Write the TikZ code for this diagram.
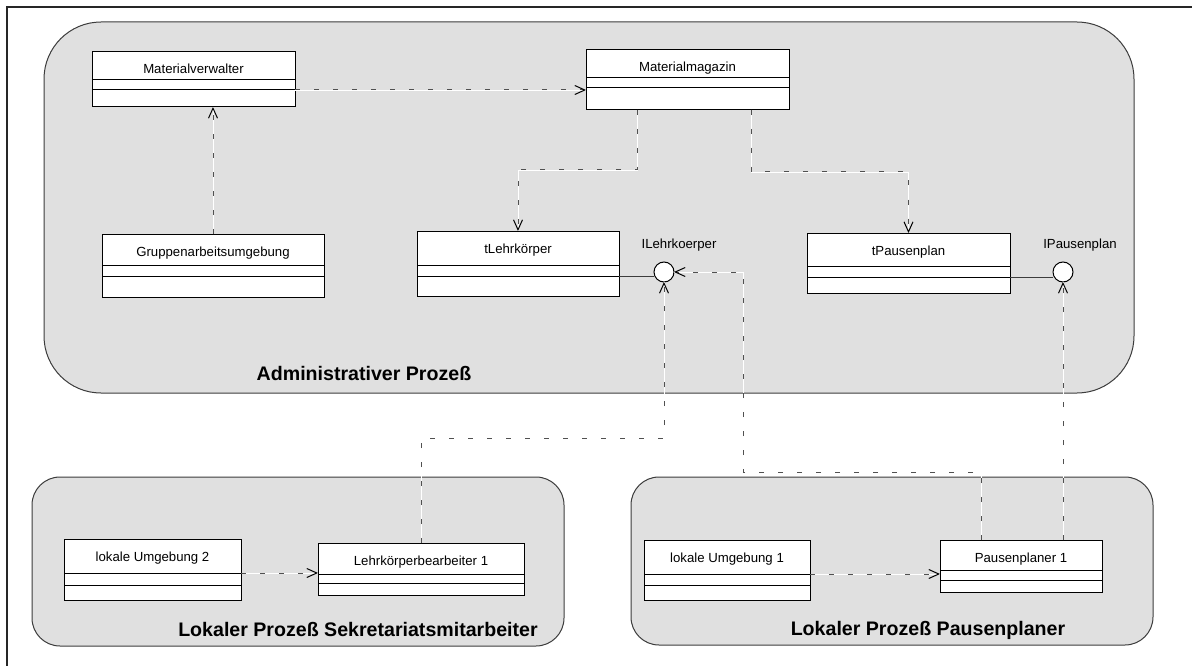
\documentclass[tikz,border=0pt]{standalone}
\usepackage{fontspec}
\setmainfont{Liberation Sans}
\usetikzlibrary{arrows.meta,calc}

\definecolor{regionfill}{RGB}{224,224,224}
\definecolor{regionline}{RGB}{60,60,60}
\definecolor{dashgray}{RGB}{80,80,80}

\tikzset{
  region/.style={draw=regionline, fill=regionfill, line width=1pt, inner sep=0pt, outer sep=0pt, rectangle},
  classbox/.style={draw=black, fill=white, line width=1pt, inner sep=0pt, outer sep=0pt, rectangle},
  classline/.style={draw=black, line width=1pt},
  classname/.style={font=\fontsize{13.2}{15}\selectfont, anchor=base, inner sep=0pt},
  regionname/.style={font=\fontsize{19.6}{22}\selectfont\bfseries, anchor=base, inner sep=0pt},
  iface/.style={circle, draw=black, fill=white, line width=1pt, minimum size=20pt, inner sep=0pt, outer sep=0pt},
  dep/.style={line width=1pt, draw=dashgray, dash pattern=on 5pt off 14pt,
    preaction={draw=white, solid, arrows=-},
    -{Straight Barb[length=10pt,width=9pt,color=black,line width=1pt]}},
  realize/.style={draw=regionline, line width=1pt},
}

% class box: name, x1, y1, x2, y2, divider 1, divider 2, title
\newcommand\umlclass[8]{%
  \node[classbox, minimum width={(#4)-(#2)}, minimum height={(#5)-(#3)}]
    (#1) at ({((#2)+(#4))/2},{((#3)+(#5))/2}) {};
  \node[classname] (#1-name) at ({((#2)+(#4))/2},{(#3)+22}) {#8};
  \draw[classline] (#2,#6) coordinate (#1-d1w) -- (#4,#6) coordinate (#1-d1e);
  \draw[classline] (#2,#7) coordinate (#1-d2w) -- (#4,#7) coordinate (#1-d2e);
}

\begin{document}
\begin{tikzpicture}[x=1pt, y=-1pt]
  \useasboundingbox (0,0) rectangle (1192,666);

  % page frame (top and left edges)
  \draw[line width=2pt, draw=black!85] (7,666) -- (7,7) -- (1192,7);

  % process regions
  \node[region, rounded corners=57pt, minimum width=1090pt, minimum height=371pt] (admin) at (589,207.5) {};
  \node[region, rounded corners=28pt, minimum width=532pt, minimum height=169pt] (sek) at (298,561.5) {};
  \node[region, rounded corners=28pt, minimum width=522pt, minimum height=168pt] (pau) at (892,561) {};

  \node[regionname] (admin-name) at (364,380) {Administrativer Prozeß};
  \node[regionname] (sek-name) at (358,636) {Lokaler Prozeß Sekretariatsmitarbeiter};
  \node[regionname] (pau-name) at (928,635) {Lokaler Prozeß Pausenplaner};

  % classes
  \umlclass{mv}{92}{52}{295}{107}{80}{90}{Materialverwalter}
  \umlclass{mm}{586}{50}{789}{110}{78}{88}{Materialmagazin}
  \umlclass{ga}{102}{234}{324}{297}{265}{276}{Gruppenarbeitsumgebung}
  \umlclass{tl}{417}{231}{619}{296}{265}{276}{tLehrkörper}
  \umlclass{tp}{807}{233}{1010}{293}{266}{277}{tPausenplan}
  \umlclass{lu2}{64}{539}{241}{600}{573}{585}{lokale Umgebung 2}
  \umlclass{lk}{318}{543}{524}{595}{574}{583}{Lehrkörperbearbeiter 1}
  \umlclass{lu1}{644}{540}{810}{600}{574}{585}{lokale Umgebung 1}
  \umlclass{pp}{940}{540}{1102}{592}{570}{580}{Pausenplaner 1}

  % interfaces
  \node[iface] (il) at (664,272) {};
  \node[classname] (il-name) at (679,248) {ILehrkoerper};
  \node[iface] (ip) at (1063,272) {};
  \node[classname] (ip-name) at (1080,248) {IPausenplan};

  % realizations
  \draw[realize] (tl-d2e) -- (tl-d2e -| il.west);
  \draw[realize] (tp-d2e) -- (tp-d2e -| ip.west);

  % dependencies
  \draw[dep] (mv-d2e) -- (mv-d2e -| mm.west);
  \draw[dep] (ga.north) -- (ga.north |- mv.south);
  \draw[dep] ($(mm.south west)+(51,0)$) -- ++(0,60) -| (tl.north);
  \draw[dep] ($(mm.south west)+(165,0)$) -- ++(0,62) -| (tp.north);
  \draw[dep] (lk.north) -- ++(0,-105) -| (il.south);
  \draw[dep] ($(pp.north west)+(41,0)$) -- ++(0,-68) -- ++(-238,0) |- (il.east);
  \draw[dep] ($(pp.north west)+(123,0)$) -- (ip.south);
  \draw[dep] (lu2-d1e) -- (lu2-d1e -| lk.west);
  \draw[dep] (lu1-d1e) -- (lu1-d1e -| pp.west);
\end{tikzpicture}
\end{document}
